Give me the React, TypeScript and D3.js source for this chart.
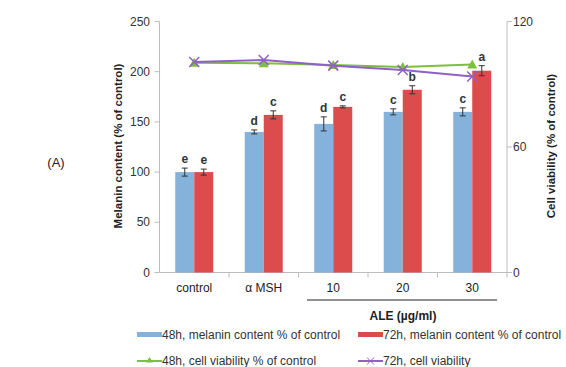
import React from 'react';
import * as d3 from 'd3';

const categories = ['control', 'α MSH', '10', '20', '30'];
const melanin48 = [100, 140, 148, 160, 160];
const melanin48Err = [4, 2, 7, 3, 4];
const melanin72 = [100, 157, 165, 182, 201];
const melanin72Err = [3, 4, 1, 4, 5];
const letters48 = ['e', 'd', 'd', 'c', 'c'];
const letters72 = ['e', 'c', 'c', 'b', 'a'];
const viability48 = [100.3, 100, 99.2, 98.2, 99.4];
const viability72 = [100.6, 101.6, 98.9, 96.8, 93.7];
const leftTicks = [0, 50, 100, 150, 200, 250];
const rightTicks = [0, 60, 120];

const W = 566;
const H = 367;
const BLUE = '#84B2DA';
const RED = '#DC4C4C';
const GREEN = '#7DBF3F';
const PURPLE = '#9060C8';
const AXIS = '#BDBDBD';
const FONT = 'Liberation Sans, Arial, sans-serif';

export default function App() {
  const left = 159.5;
  const right = 507;
  const top = 21.5;
  const bottom = 272.5;

  const x = d3.scaleBand<string>().domain(categories).range([left, right]);
  const yL = d3.scaleLinear().domain([0, 250]).range([bottom, top]);
  const yR = d3.scaleLinear().domain([0, 120]).range([bottom, top]);
  const barW = 19;
  const cx = (c: string) => (x(c) as number) + x.bandwidth() / 2;

  const line = (vals: number[]) =>
    d3.line<number>()
      .x((_, i) => cx(categories[i]))
      .y((d) => yR(d))(vals) as string;

  // bars + error bars + significance letters
  const bars = (vals: number[], errs: number[], lets: string[], color: string, offset: number) =>
    vals.map((v, i) => {
      const bx = cx(categories[i]) + offset;
      const ec = bx + barW / 2;
      const yt = yL(v + errs[i]);
      const yb = yL(v - errs[i]);
      return (
        <g key={color + i}>
          <rect x={bx} y={yL(v)} width={barW} height={bottom - yL(v)} fill={color} />
          <line x1={ec} x2={ec} y1={yt} y2={yb} stroke="#333" strokeWidth={1} />
          <line x1={ec - 3} x2={ec + 3} y1={yt} y2={yt} stroke="#333" strokeWidth={1} />
          <line x1={ec - 3} x2={ec + 3} y1={yb} y2={yb} stroke="#333" strokeWidth={1} />
          <text x={ec} y={yt - 5} textAnchor="middle" fontSize={12} fontWeight="bold" fill="#333">
            {lets[i]}
          </text>
        </g>
      );
    });

  const tri = (px: number, py: number, k: string) => (
    <path key={k} d={`M${px},${py - 5}L${px + 5},${py + 4}L${px - 5},${py + 4}Z`} fill={GREEN} />
  );
  const cross = (px: number, py: number, k: string) => (
    <path key={k} d={`M${px - 5},${py - 5}L${px + 5},${py + 5}M${px - 5},${py + 5}L${px + 5},${py - 5}`}
      stroke={PURPLE} strokeWidth={1.5} fill="none" />
  );

  return (
    <svg width={W} height={H} style={{ position: 'absolute', left: 0, top: 0, fontFamily: FONT }}>
      <rect width={W} height={H} fill="#fff" />
      <text x={56} y={167} textAnchor="middle" fontSize={13} fill="#222">(A)</text>

      {/* axes */}
      <line x1={left} x2={left} y1={top} y2={bottom} stroke={AXIS} />
      <line x1={right} x2={right} y1={top} y2={bottom} stroke={AXIS} />
      <line x1={left} x2={right} y1={bottom} y2={bottom} stroke={AXIS} />
      {leftTicks.map((t) => (
        <g key={'l' + t}>
          <line x1={left - 5} x2={left} y1={yL(t)} y2={yL(t)} stroke={AXIS} />
          <text x={150} y={yL(t) + 4} textAnchor="end" fontSize={12} fill="#333">{t}</text>
        </g>
      ))}
      {rightTicks.map((t) => (
        <g key={'r' + t}>
          <line x1={right} x2={right + 5} y1={yR(t)} y2={yR(t)} stroke={AXIS} />
          <text x={513} y={yR(t) + 4} textAnchor="start" fontSize={12} fill="#333">{t}</text>
        </g>
      ))}
      {categories.map((c, i) => (
        <g key={'c' + c}>
          {i > 0 && <line x1={x(c)} x2={x(c)} y1={bottom} y2={bottom + 5} stroke={AXIS} />}
          <text x={cx(c)} y={292} textAnchor="middle" fontSize={12} fill="#222">{c}</text>
        </g>
      ))}
      <line x1={right} x2={right} y1={bottom} y2={bottom + 5} stroke={AXIS} />

      <text transform={`translate(122,146) rotate(-90)`} textAnchor="middle" fontSize={11.5} fontWeight="bold" fill="#222">
        Melanin content (% of control)
      </text>
      <text transform={`translate(555,146) rotate(-90)`} textAnchor="middle" fontSize={11.5} fontWeight="bold" fill="#222">
        Cell viability (% of control)
      </text>

      {bars(melanin48, melanin48Err, letters48, BLUE, -barW)}
      {bars(melanin72, melanin72Err, letters72, RED, 0)}

      <path d={line(viability48)} stroke={GREEN} strokeWidth={2} fill="none" />
      {viability48.map((v, i) => tri(cx(categories[i]), yR(v), 'g' + i))}
      <path d={line(viability72)} stroke={PURPLE} strokeWidth={2} fill="none" />
      {viability72.map((v, i) => cross(cx(categories[i]), yR(v), 'p' + i))}

      <line x1={307} x2={497} y1={300} y2={300} stroke="#222" strokeWidth={1.2} />
      <text x={403} y={320} textAnchor="middle" fontSize={12} fontWeight="bold" fill="#222">ALE (µg/ml)</text>

      {/* legend */}
      <rect x={137} y={332} width={25} height={5} fill={BLUE} />
      <text x={162} y={339} fontSize={12} fill="#333">48h, melanin content % of control</text>
      <rect x={358} y={332} width={25} height={5} fill={RED} />
      <text x={383} y={339} fontSize={12} fill="#333">72h, melanin content % of control</text>
      <line x1={137} x2={162} y1={361} y2={361} stroke={GREEN} strokeWidth={2} />
      <path d="M149.5,357L153,362.5L146,362.5Z" fill={GREEN} />
      <text x={162} y={365} fontSize={12} fill="#333">48h, cell viability % of control</text>
      <line x1={358} x2={383} y1={361} y2={361} stroke={PURPLE} strokeWidth={2} />
      <path d="M367,357.5L374,364.5M367,364.5L374,357.5" stroke={PURPLE} strokeWidth={1} />
      <text x={383} y={365} fontSize={12} fill="#333">72h, cell viability</text>
    </svg>
  );
}
